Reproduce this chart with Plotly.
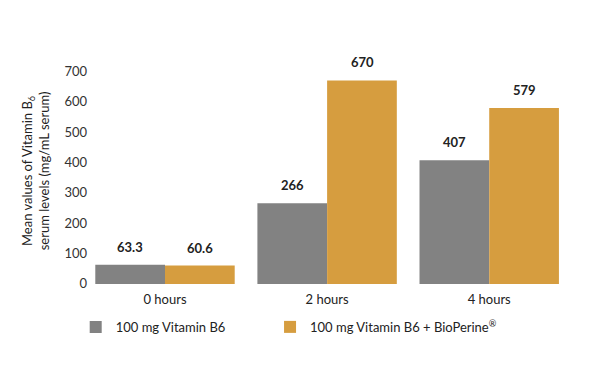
import plotly.graph_objects as go

categories = ["0 hours", "2 hours", "4 hours"]
b6_values = [63.3, 266, 407]
bio_values = [60.6, 670, 579]
b6_labels = ["63.3", "266", "407"]
bio_labels = ["60.6", "670", "579"]
y_ticks = [0, 100, 200, 300, 400, 500, 600, 700]
series_names = ["100 mg Vitamin B6", "100 mg Vitamin B6 + BioPerine<sup>®</sup>"]

GRAY = "#828282"
ORANGE = "#d69d3f"
FONT = "Lato, Open Sans, sans-serif"

fig = go.Figure()
fig.add_trace(go.Bar(
    x=categories, y=b6_values, name=series_names[0],
    marker=dict(color=GRAY, line=dict(width=0)), legend="legend",
))
fig.add_trace(go.Bar(
    x=categories, y=bio_values, name=series_names[1],
    marker=dict(color=ORANGE, line=dict(width=0)), legend="legend2",
))

annotations = []
for cat, v, lab in zip(categories, b6_values, b6_labels):
    annotations.append(dict(x=cat, y=v, text=f"<b>{lab}</b>", showarrow=False,
                            xshift=-35, yshift=18, font=dict(size=13, color="#222", family=FONT)))
for cat, v, lab in zip(categories, bio_values, bio_labels):
    annotations.append(dict(x=cat, y=v, text=f"<b>{lab}</b>", showarrow=False,
                            xshift=35, yshift=18, font=dict(size=13, color="#222", family=FONT)))

annotations.append(dict(
    xref="paper", yref="paper", x=-0.105, y=0.49, xanchor="center", yanchor="middle",
    text="Mean values of Vitamin B<sub>6</sub><br>serum levels (mg/mL serum)",
    textangle=-90, showarrow=False, font=dict(size=13, color="#222", family=FONT),
))

fig.update_layout(
    width=584, height=364,
    margin=dict(l=80, r=12, t=39, b=82),
    paper_bgcolor="white", plot_bgcolor="white",
    barmode="group", bargap=0.14, bargroupgap=0,
    font=dict(family=FONT, size=13, color="#222"),
    xaxis=dict(type="category", range=[-0.475, 2.56], showline=False, showgrid=False,
               zeroline=False, ticks="", tickfont=dict(size=13, color="#222")),
    yaxis=dict(range=[-20, 780], tickvals=y_ticks, showgrid=False, zeroline=False,
               showline=False, ticks="", tickfont=dict(size=13, color="#333")),
    annotations=annotations,
    showlegend=True,
    legend=dict(orientation="h", x=-0.025, y=-0.152, xanchor="left", yanchor="middle",
                font=dict(size=13, color="#222", family=FONT), bgcolor="rgba(0,0,0,0)"),
    legend2=dict(orientation="h", x=0.37, y=-0.152, xanchor="left", yanchor="middle",
                 font=dict(size=13, color="#222", family=FONT), bgcolor="rgba(0,0,0,0)"),
)

fig.write_html("out.html")
